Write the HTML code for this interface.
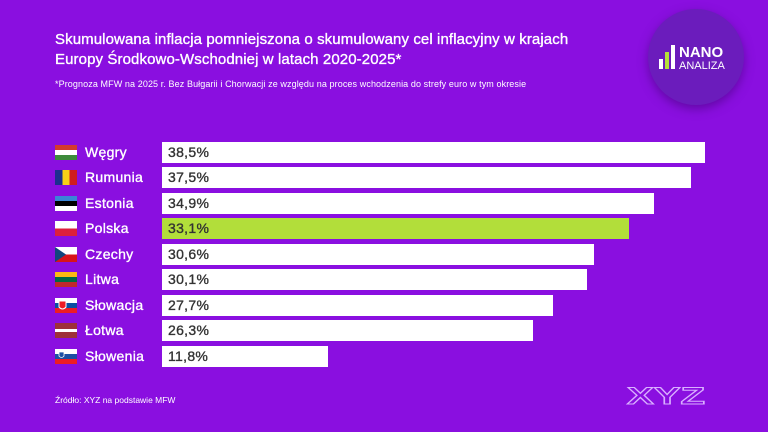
<!DOCTYPE html>
<html><head><meta charset="utf-8"><style>
body{margin:0;width:768px;height:432px;background:#8a0fe0;font-family:"Liberation Sans",sans-serif;position:relative;overflow:hidden;color:#fff}
.t{position:absolute;left:55px;top:30px;font-size:15px;line-height:20px;letter-spacing:0.1px;-webkit-text-stroke:0.35px #fff}
.s{position:absolute;left:55px;top:79px;font-size:9px;letter-spacing:0.1px}
.circ{position:absolute;left:648px;top:9px;width:96px;height:96px;border-radius:50%;background:#6b1cbc;box-shadow:0 4px 10px rgba(60,0,110,.5)}
.row{position:absolute;left:0;height:21px;width:768px}
.flag{position:absolute;left:55px;top:3px;width:22px;height:15px}
.lab{position:absolute;left:85px;top:2px;font-size:14px;letter-spacing:0.3px;-webkit-text-stroke:0.35px #fff}
.bar{position:absolute;left:162px;top:0;height:21px;background:#fff;color:#333;font-size:14px;line-height:21px;box-sizing:border-box;padding-left:6px;letter-spacing:0.3px;-webkit-text-stroke:0.35px #333}
.src{position:absolute;left:55px;top:395px;font-size:8.5px}
</style></head><body>
<div class="t">Skumulowana inflacja pomniejszona o skumulowany cel inflacyjny w krajach<br>Europy Środkowo-Wschodniej w latach 2020-2025*</div>
<div class="s">*Prognoza MFW na 2025 r. Bez Bułgarii i Chorwacji ze względu na proces wchodzenia do strefy euro w tym okresie</div>
<div class="circ"></div>
<svg style="position:absolute;left:656px;top:44px" width="84" height="28">
<rect x="3" y="15" width="4" height="10" fill="#fff"/><rect x="9" y="8" width="4" height="17" fill="#b5e03a"/><rect x="15" y="1" width="4" height="24" fill="#fff"/>
<text x="23" y="13" font-family="Liberation Sans" font-weight="bold" font-size="15" fill="#fff">NANO</text>
<text x="23" y="25" font-family="Liberation Sans" font-size="11" fill="#fff">ANALIZA</text></svg>

<div class="row" style="top:142px"><div class="flag" style="background:linear-gradient(#d43a2f 33%,#fff 33%,#fff 66%,#3d8a3b 66%)"></div><div class="lab">Węgry</div><div class="bar" style="width:543px">38,5%</div></div>
<div class="row" style="top:167px"><div class="flag" style="background:linear-gradient(90deg,#1d2f8f 33%,#f7d117 33%,#f7d117 66%,#d01c1f 66%)"></div><div class="lab">Rumunia</div><div class="bar" style="width:529px">37,5%</div></div>
<div class="row" style="top:193px"><div class="flag" style="background:linear-gradient(#3a86d6 33%,#000 33%,#000 66%,#fff 66%)"></div><div class="lab">Estonia</div><div class="bar" style="width:492px">34,9%</div></div>
<div class="row" style="top:218px"><div class="flag" style="background:linear-gradient(#fff 50%,#dc1f3d 50%)"></div><div class="lab">Polska</div><div class="bar" style="width:467px;background:#b2de3a">33,1%</div></div>
<div class="row" style="top:244px"><div class="flag" style="background:linear-gradient(#fff 50%,#d7141a 50%)"><svg width="22" height="15" style="display:block"><polygon points="0,0 11,7.5 0,15" fill="#11457e"/></svg></div><div class="lab">Czechy</div><div class="bar" style="width:432px">30,6%</div></div>
<div class="row" style="top:269px"><div class="flag" style="background:linear-gradient(#fdb913 33%,#006a44 33%,#006a44 66%,#c1272d 66%)"></div><div class="lab">Litwa</div><div class="bar" style="width:425px">30,1%</div></div>
<div class="row" style="top:295px"><div class="flag" style="background:linear-gradient(#fff 33%,#0b4ea2 33%,#0b4ea2 66%,#ee1c25 66%)"><svg width="22" height="15" style="display:block"><path d="M4,3h7v6q-3.5,4-7,0z" fill="#ee1c25" stroke="#fff" stroke-width="1"/></svg></div><div class="lab">Słowacja</div><div class="bar" style="width:391px">27,7%</div></div>
<div class="row" style="top:320px"><div class="flag" style="background:linear-gradient(#9e3039 40%,#fff 40%,#fff 60%,#9e3039 60%)"></div><div class="lab">Łotwa</div><div class="bar" style="width:371px">26,3%</div></div>
<div class="row" style="top:346px"><div class="flag" style="background:linear-gradient(#fff 33%,#1d4fa3 33%,#1d4fa3 66%,#ed1c24 66%)"><svg width="22" height="15" style="display:block"><path d="M4,3h5v4q-2.5,3-5,0z" fill="#1d4fa3" stroke="#fff" stroke-width=".8"/></svg></div><div class="lab">Słowenia</div><div class="bar" style="width:166px">11,8%</div></div>

<div class="src">Źródło: XYZ na podstawie MFW</div>
<svg style="position:absolute;left:625px;top:383px" width="84" height="24"><text x="2" y="21" font-family="Liberation Sans" font-weight="bold" font-size="24" fill="none" stroke="#d9b0ff" stroke-width="1" textLength="78" lengthAdjust="spacingAndGlyphs">XYZ</text></svg>
</body></html>
